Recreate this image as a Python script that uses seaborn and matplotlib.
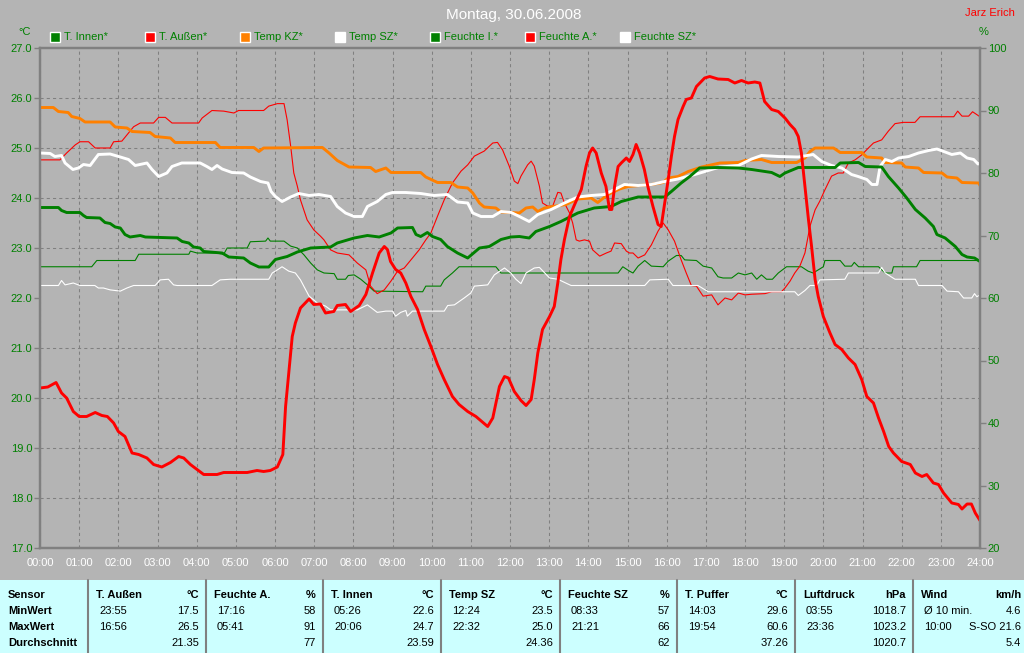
import matplotlib
matplotlib.use("Agg")
import matplotlib.pyplot as plt
import seaborn as sns
import pandas as pd
from matplotlib.patches import Rectangle
from matplotlib.lines import Line2D

# ---------------- data ----------------
title = "Montag, 30.06.2008"
author = "Jarz Erich"
legend_labels = ["T. Innen*", "T. Außen*", "Temp KZ*", "Temp SZ*", "Feuchte I.*", "Feuchte A.*", "Feuchte SZ*"]
legend_colors = ["#008000", "#FF0000", "#FF8000", "#FFFFFF", "#008000", "#FF0000", "#FFFFFF"]

hour_ticks = list(range(0, 25))
hour_labels = [f"{h:02d}:00" for h in hour_ticks]
temp_ticks = list(range(17, 28))
hum_ticks = list(range(20, 101, 10))

t_aussen_h = [0.0, 0.2, 0.41, 0.55, 0.68, 0.85, 1.0, 1.19, 1.41, 1.58, 1.72, 1.88, 2.0, 2.17, 2.35, 2.52, 2.73, 2.9,
              3.11, 3.33, 3.54, 3.67, 3.84, 4.01, 4.18, 4.52, 4.69, 5.29, 5.54, 5.71, 5.88, 6.06, 6.2, 6.27, 6.35,
              6.44, 6.52, 6.65, 6.87, 6.99, 7.16, 7.29, 7.5, 7.59, 7.8, 7.93, 8.15, 8.32, 8.49, 8.66, 8.79, 8.87,
              8.95, 9.08, 9.21, 9.34, 9.47, 9.64, 9.81, 9.98, 10.15, 10.32, 10.53, 10.7, 10.92, 11.13, 11.43, 11.56,
              11.73, 11.86, 11.96, 12.11, 12.28, 12.41, 12.54, 12.62, 12.71, 12.83, 13.01, 13.13, 13.22, 13.3, 13.39,
              13.52, 13.65, 13.82, 13.94, 14.03, 14.11, 14.2, 14.33, 14.45, 14.54, 14.6, 14.67, 14.76, 14.84, 14.97,
              15.05, 15.14, 15.22, 15.31, 15.43, 15.52, 15.65, 15.78, 15.86, 15.95, 16.04, 16.12, 16.2, 16.29, 16.42,
              16.5, 16.63, 16.76, 16.97, 17.1, 17.31, 17.57, 17.74, 17.91, 18.08, 18.25, 18.38, 18.5, 18.68, 18.85,
              19.02, 19.15, 19.27, 19.36, 19.44, 19.53, 19.62, 19.7, 19.79, 19.87, 20.0, 20.17, 20.3, 20.47, 20.64,
              20.81, 20.98, 21.11, 21.28, 21.41, 21.54, 21.67, 21.79, 22.0, 22.22, 22.35, 22.52, 22.64, 22.81, 22.94,
              23.07, 23.28, 23.45, 23.54, 23.67, 23.78, 23.88, 24.0]
t_aussen = [20.2, 20.22, 20.31, 20.1, 20.0, 19.73, 19.63, 19.63, 19.71, 19.65, 19.63, 19.5, 19.33, 19.23, 18.9, 18.87,
            18.8, 18.67, 18.62, 18.71, 18.83, 18.8, 18.67, 18.57, 18.47, 18.47, 18.51, 18.51, 18.55, 18.53, 18.55,
            18.62, 18.87, 19.83, 20.5, 21.23, 21.5, 21.8, 21.98, 21.87, 21.88, 21.7, 21.73, 21.85, 21.87, 21.73,
            21.85, 22.07, 22.5, 22.9, 23.03, 22.97, 22.73, 22.57, 22.5, 22.3, 22.03, 21.77, 21.37, 21.03, 20.67,
            20.37, 20.03, 19.87, 19.73, 19.63, 19.43, 19.6, 20.23, 20.43, 20.4, 20.13, 19.95, 19.85, 19.97, 20.37,
            20.9, 21.37, 21.63, 21.83, 22.3, 22.77, 23.17, 23.63, 23.87, 24.17, 24.63, 24.9, 25.0, 24.9, 24.5, 24.23,
            23.77, 23.77, 24.23, 24.63, 24.7, 24.8, 24.73, 24.87, 25.07, 24.9, 24.57, 24.23, 23.83, 23.47, 23.43,
            23.9, 24.37, 24.83, 25.23, 25.57, 25.83, 25.97, 26.0, 26.23, 26.4, 26.43, 26.38, 26.37, 26.3, 26.35,
            26.3, 26.32, 26.3, 25.93, 25.77, 25.73, 25.6, 25.47, 25.37, 25.23, 24.9, 24.23, 23.57, 23.03, 22.37,
            22.03, 21.63, 21.3, 21.07, 20.97, 20.8, 20.67, 20.37, 20.03, 19.9, 19.6, 19.33, 19.03, 18.9, 18.73,
            18.67, 18.5, 18.43, 18.47, 18.3, 18.27, 18.1, 17.9, 17.87, 17.78, 17.88, 17.88, 17.7, 17.55]

feuchte_a_h = [0.0, 0.51, 0.68, 0.9, 1.02, 1.24, 1.41, 1.79, 1.88, 2.09, 2.22, 2.39, 2.56, 2.9, 3.03, 3.2, 3.37, 4.05,
               4.14, 4.39, 4.69, 4.95, 5.07, 5.71, 5.84, 6.06, 6.23, 6.31, 6.4, 6.48, 6.57, 6.65, 6.82, 6.99, 7.16,
               7.25, 7.42, 7.59, 7.89, 8.1, 8.32, 8.44, 8.61, 8.79, 8.96, 9.13, 9.3, 9.47, 9.68, 9.85, 9.98, 10.15,
               10.32, 10.53, 10.75, 10.92, 11.09, 11.34, 11.56, 11.68, 11.81, 11.98, 12.11, 12.2, 12.28, 12.45, 12.54,
               12.62, 12.75, 12.83, 12.96, 13.09, 13.22, 13.3, 13.39, 13.52, 13.6, 13.69, 13.77, 13.9, 14.03, 14.11,
               14.29, 14.46, 14.58, 14.67, 14.84, 14.97, 15.05, 15.14, 15.27, 15.44, 15.61, 15.78, 15.91, 16.04, 16.2,
               16.37, 16.5, 16.63, 16.76, 16.93, 17.15, 17.31, 17.49, 17.66, 17.83, 18.0, 18.17, 18.51, 18.68, 18.93,
               19.02, 19.15, 19.27, 19.4, 19.53, 19.66, 19.79, 19.91, 20.04, 20.21, 20.38, 20.51, 20.64, 20.81, 20.98,
               21.15, 21.28, 21.49, 21.66, 21.83, 22.04, 22.34, 22.47, 23.33, 23.43, 23.54, 23.71, 23.81, 24.0]
feuchte_a = [82.1, 82.1, 83.2, 84.5, 85.0, 85.0, 84.0, 84.0, 85.0, 85.1, 86.1, 87.4, 88.0, 88.0, 88.9, 88.9, 88.0,
             88.0, 88.8, 90.0, 89.9, 89.6, 90.0, 90.0, 90.7, 91.1, 91.1, 88.5, 84.3, 80.0, 77.9, 75.7, 72.5, 70.9,
             69.9, 69.3, 67.7, 67.2, 66.9, 65.6, 64.5, 61.9, 60.7, 61.3, 62.7, 64.3, 64.8, 66.1, 67.7, 69.3, 70.4,
             73.1, 75.7, 78.4, 80.3, 81.3, 82.7, 83.5, 84.8, 84.9, 83.7, 81.1, 78.7, 78.3, 79.5, 81.3, 81.9, 81.1,
             77.9, 75.2, 74.7, 74.7, 76.9, 76.8, 75.2, 73.6, 72.0, 69.3, 69.1, 69.3, 69.1, 67.7, 66.7, 67.2, 67.5,
             68.8, 68.7, 67.5, 67.2, 67.2, 66.4, 66.9, 68.5, 70.7, 72.0, 70.9, 69.1, 66.1, 64.0, 62.0, 61.9, 60.3,
             60.5, 58.9, 60.0, 59.7, 60.8, 60.5, 60.6, 60.7, 61.0, 61.0, 61.6, 62.7, 64.0, 65.1, 67.2, 71.5, 74.1,
             75.5, 77.3, 79.5, 80.0, 80.0, 81.6, 82.1, 82.9, 84.0, 84.8, 85.3, 86.7, 87.9, 88.1, 88.1, 89.0, 89.0,
             89.9, 89.1, 89.1, 89.8, 89.0]

temp_kz_h = [0.0, 0.34, 0.47, 0.72, 0.81, 1.02, 1.15, 1.79, 1.92, 2.22, 2.35, 2.81, 2.94, 3.33, 3.45, 4.48, 4.6, 5.46,
             5.59, 5.71, 7.21, 7.38, 7.59, 7.89, 8.44, 8.57, 8.83, 8.96, 9.72, 9.85, 10.15, 10.49, 10.66, 10.92,
             11.05, 11.22, 11.34, 11.64, 11.77, 12.24, 12.41, 12.58, 12.71, 12.88, 13.09, 13.43, 13.73, 14.07, 14.24,
             14.5, 14.8, 15.01, 15.31, 15.61, 15.91, 16.04, 16.29, 16.55, 16.89, 17.36, 17.83, 18.0, 18.42, 18.68,
             19.32, 19.53, 19.66, 19.79, 20.26, 20.43, 20.98, 21.11, 21.49, 21.57, 22.0, 22.09, 22.43, 22.56, 23.03,
             23.16, 23.41, 23.54, 23.97, 24.0]
temp_kz = [25.81, 25.81, 25.73, 25.71, 25.63, 25.59, 25.52, 25.52, 25.42, 25.4, 25.33, 25.31, 25.23, 25.2, 25.11,
           25.11, 25.01, 25.01, 24.93, 25.0, 25.01, 24.9, 24.75, 24.62, 24.61, 24.53, 24.6, 24.51, 24.51, 24.42,
           24.31, 24.31, 24.22, 24.2, 24.1, 23.9, 23.82, 23.8, 23.72, 23.7, 23.8, 23.82, 23.73, 23.8, 23.83, 23.87,
           23.98, 24.0, 23.91, 24.07, 24.18, 24.23, 24.25, 24.27, 24.31, 24.4, 24.43, 24.53, 24.62, 24.7, 24.71,
           24.75, 24.77, 24.71, 24.71, 24.8, 24.93, 25.0, 25.0, 24.91, 24.91, 24.82, 24.8, 24.71, 24.7, 24.62, 24.6,
           24.51, 24.5, 24.42, 24.4, 24.31, 24.3, 24.25]

temp_sz_h = [0.0, 0.26, 0.38, 0.55, 0.64, 0.84, 0.98, 1.11, 1.28, 1.49, 1.79, 2.05, 2.26, 2.43, 2.73, 2.86, 3.03, 3.24,
             3.37, 3.62, 4.09, 4.26, 4.39, 4.52, 4.65, 4.9, 5.2, 5.37, 5.63, 5.82, 5.9, 6.01, 6.18, 6.4, 6.61, 6.87,
             7.12, 7.42, 7.59, 7.8, 8.02, 8.23, 8.36, 8.61, 8.83, 9.0, 9.34, 9.72, 10.06, 10.4, 10.66, 10.92, 11.05,
             11.26, 11.56, 11.77, 12.03, 12.24, 12.49, 12.71, 13.05, 13.39, 13.73, 14.07, 14.41, 14.67, 14.92,
             15.27, 15.61, 15.95, 16.29, 16.72, 17.06, 17.36, 17.83, 18.17, 18.42, 18.85, 19.36, 19.74, 19.96,
             20.21, 20.47, 20.72, 20.89, 21.11, 21.24, 21.37, 21.45, 21.58, 21.75, 21.92, 22.18, 22.43, 22.69,
             22.9, 23.11, 23.28, 23.5, 23.67, 23.84, 23.95, 24.0]
temp_sz = [24.9, 24.89, 24.83, 24.85, 24.7, 24.57, 24.6, 24.67, 24.65, 24.87, 24.88, 24.82, 24.77, 24.65, 24.7, 24.57,
           24.43, 24.5, 24.63, 24.7, 24.7, 24.63, 24.57, 24.65, 24.58, 24.51, 24.5, 24.42, 24.33, 24.3, 24.13, 24.03,
           23.93, 24.02, 24.09, 24.05, 24.07, 24.03, 23.83, 23.7, 23.63, 23.63, 23.83, 23.93, 24.07, 24.11, 24.11,
           24.09, 24.05, 24.07, 23.92, 23.9, 23.7, 23.63, 23.63, 23.73, 23.71, 23.63, 23.53, 23.67, 23.77, 23.9,
           24.02, 24.05, 24.07, 24.17, 24.27, 24.25, 24.27, 24.33, 24.38, 24.47, 24.55, 24.62, 24.65, 24.78, 24.85,
           24.83, 24.82, 24.87, 24.73, 24.65, 24.6, 24.47, 24.43, 24.37, 24.27, 24.27, 24.63, 24.77, 24.73, 24.8,
           24.83, 24.9, 24.95, 24.98, 24.92, 24.87, 24.9, 24.8, 24.77, 24.68, 24.7]

t_innen_h = [0.0, 0.47, 0.55, 0.68, 1.02, 1.11, 1.19, 1.53, 1.66, 1.79, 1.92, 2.05, 2.17, 2.3, 2.56, 2.69, 3.5, 3.63,
             3.8, 3.92, 4.09, 4.18, 4.65, 4.82, 5.2, 5.37, 5.59, 5.84, 6.01, 6.31, 6.57, 6.91, 7.42, 7.59, 8.02, 8.36,
             8.66, 8.96, 9.13, 9.51, 9.6, 9.72, 9.89, 10.02, 10.23, 10.4, 10.66, 10.92, 11.22, 11.47, 11.77, 12.02,
             12.24, 12.49, 12.66, 13.01, 13.3, 13.73, 14.15, 14.58, 14.84, 15.27, 15.95, 16.12, 16.37, 16.59, 16.84,
             17.31, 17.83, 18.17, 18.68, 18.89, 19.02, 19.36, 20.3, 20.43, 20.9, 21.07, 21.49, 21.66, 21.92, 22.13,
             22.35, 22.6, 22.81, 22.9, 23.11, 23.37, 23.54, 23.67, 23.86, 24.0]
t_innen = [23.81, 23.81, 23.75, 23.71, 23.71, 23.65, 23.61, 23.6, 23.51, 23.49, 23.42, 23.4, 23.27, 23.22, 23.25,
           23.22, 23.2, 23.13, 23.1, 23.02, 23.0, 22.93, 22.9, 22.82, 22.8, 22.7, 22.62, 22.62, 22.77, 22.83, 22.92,
           23.0, 23.02, 23.1, 23.2, 23.25, 23.22, 23.3, 23.4, 23.41, 23.27, 23.23, 23.31, 23.23, 23.17, 23.03, 22.9,
           22.8, 23.0, 23.03, 23.17, 23.22, 23.23, 23.2, 23.33, 23.43, 23.53, 23.7, 23.8, 23.83, 23.93, 24.02, 24.02,
           24.13, 24.3, 24.43, 24.6, 24.61, 24.6, 24.57, 24.51, 24.43, 24.5, 24.61, 24.61, 24.7, 24.71, 24.63, 24.62,
           24.43, 24.2, 24.0, 23.77, 23.6, 23.43, 23.27, 23.2, 23.03, 22.87, 22.82, 22.8, 22.73]

feuchte_i_h = [0.0, 1.32, 1.45, 2.43, 2.52, 3.8, 3.84, 4.01, 4.5, 4.69, 4.78, 5.29, 5.37, 5.76, 5.82, 5.88, 6.23, 6.4,
               6.57, 6.74, 6.91, 7.08, 7.25, 7.51, 7.59, 7.8, 7.87, 8.02, 8.19, 8.36, 8.53, 9.77, 9.85, 10.23, 10.32,
               10.53, 10.7, 11.64, 11.77, 14.76, 14.88, 15.05, 15.14, 15.27, 15.44, 15.61, 15.91, 16.04, 16.25, 16.37,
               16.46, 16.76, 16.93, 17.15, 17.31, 17.44, 17.66, 17.83, 18.0, 18.17, 18.3, 18.42, 18.55, 18.7, 18.85,
               19.06, 19.44, 19.61, 19.74, 20.0, 20.04, 20.43, 20.55, 20.72, 20.79, 20.9, 21.41, 21.58, 21.75, 21.79,
               22.38, 22.47, 24.0]
feuchte_i = [65.0, 65.0, 66.0, 66.0, 67.0, 67.0, 67.5, 67.2, 67.2, 67.0, 68.0, 68.0, 69.0, 69.1, 69.6, 69.1, 69.1,
             68.3, 68.0, 66.9, 65.6, 64.5, 64.0, 63.9, 63.0, 63.0, 63.6, 63.7, 63.0, 62.1, 61.1, 61.0, 61.9, 61.9,
             62.9, 64.0, 65.0, 65.0, 64.0, 64.0, 65.0, 64.3, 64.0, 65.1, 66.0, 65.1, 65.0, 65.9, 66.8, 66.8, 66.1,
             66.0, 65.1, 64.8, 63.4, 63.2, 63.2, 64.0, 63.7, 64.0, 63.0, 63.7, 63.0, 63.0, 64.0, 65.0, 65.0, 64.3,
             64.0, 65.0, 66.0, 66.0, 65.1, 65.1, 65.7, 65.0, 65.0, 64.0, 64.0, 65.0, 65.0, 66.0, 66.0]

feuchte_sz_h = [0.0, 0.47, 0.55, 0.64, 0.85, 1.02, 1.4, 1.49, 1.62, 1.79, 2.05, 2.22, 2.39, 2.94, 3.07, 3.28, 3.41,
                3.5, 4.39, 4.6, 4.86, 5.84, 5.93, 6.06, 6.18, 6.35, 6.52, 6.65, 6.87, 7.08, 7.29, 7.42, 8.1, 8.36,
                8.61, 8.83, 9.0, 9.08, 9.21, 9.34, 9.38, 9.51, 10.32, 10.41, 10.58, 10.83, 11.0, 11.09, 11.43, 11.6,
                11.86, 12.02, 12.15, 12.28, 12.41, 12.62, 12.75, 13.01, 13.22, 13.56, 15.44, 15.57, 16.04, 16.16,
                16.8, 17.06, 19.27, 19.36, 19.53, 19.66, 19.83, 19.91, 20.55, 20.64, 21.41, 21.49, 21.58, 21.83,
                22.35, 22.43, 23.03, 23.16, 23.45, 23.58, 23.79, 23.86, 23.92, 24.0]
feuchte_sz = [62.0, 62.0, 62.8, 62.1, 62.4, 62.0, 62.0, 61.6, 61.6, 61.3, 61.1, 61.6, 62.0, 62.0, 62.9, 63.0, 62.1,
              62.0, 62.0, 62.9, 63.0, 63.0, 64.0, 64.5, 65.0, 64.3, 64.0, 62.9, 60.3, 59.2, 58.7, 58.1, 58.1, 58.9,
              57.7, 57.9, 57.9, 57.1, 57.7, 58.0, 57.1, 57.9, 57.9, 58.8, 58.9, 60.0, 60.8, 61.9, 62.1, 63.7, 64.8,
              64.0, 63.0, 62.3, 64.0, 64.8, 64.9, 63.2, 63.0, 62.0, 62.0, 62.9, 63.0, 62.0, 62.0, 61.0, 61.0, 60.4,
              61.2, 62.0, 62.0, 62.9, 63.0, 64.0, 64.0, 64.9, 64.0, 63.0, 63.0, 62.0, 62.0, 61.1, 61.0, 60.0, 60.0,
              60.7, 60.2, 60.5]

# summary table
table_row_labels = ["Sensor", "MinWert", "MaxWert", "Durchschnitt"]
sensor_names = ["T. Außen", "Feuchte A.", "T. Innen", "Temp SZ", "Feuchte SZ", "T. Puffer", "Luftdruck", "Wind"]
sensor_units = ["°C", "%", "°C", "°C", "%", "°C", "hPa", "km/h"]
min_times = ["23:55", "17:16", "05:26", "12:24", "08:33", "14:03", "03:55", "Ø 10 min."]
min_vals = ["17.5", "58", "22.6", "23.5", "57", "29.6", "1018.7", "4.6"]
max_times = ["16:56", "05:41", "20:06", "22:32", "21:21", "19:54", "23:36", "10:00"]
max_vals = ["26.5", "91", "24.7", "25.0", "66", "60.6", "1023.2", "S-SO 21.6"]
avg_vals = ["21.35", "77", "23.59", "24.36", "62", "37.26", "1020.7", "5.4"]

# ---------------- style ----------------
W, H = 1024, 653
BG = "#B4B4B4"
FRAME = "#808080"
GREEN = "#008000"
sns.set_style("white")
plt.rcParams['font.family'] = ['Liberation Sans', 'DejaVu Sans']

def fx(x):
    return x / W

def fy(y):
    return 1 - y / H

fig = plt.figure(figsize=(W / 100, H / 100), dpi=100, facecolor=BG)
ax = fig.add_axes([fx(40), fy(548), 940 / W, 500 / H])
ax2 = ax.twinx()
ax.set_zorder(3)
ax2.set_zorder(2)
ax.patch.set_visible(False)
ax2.patch.set_visible(True)
ax2.patch.set_facecolor(BG)

# humidity series (thin, right axis)
right_series = [
    (feuchte_i_h, feuchte_i, legend_colors[4]),
    (feuchte_a_h, feuchte_a, legend_colors[5]),
    (feuchte_sz_h, feuchte_sz, legend_colors[6]),
]
for hx, vy, col in right_series:
    df = pd.DataFrame({"h": hx, "v": vy})
    sns.lineplot(data=df, x="h", y="v", ax=ax2, color=col, linewidth=0.8, estimator=None, legend=False)

# temperature series (thick, left axis)
left_series = [
    (temp_kz_h, temp_kz, legend_colors[2]),
    (temp_sz_h, temp_sz, legend_colors[3]),
    (t_innen_h, t_innen, legend_colors[0]),
    (t_aussen_h, t_aussen, legend_colors[1]),
]
for hx, vy, col in left_series:
    df = pd.DataFrame({"h": hx, "v": vy})
    sns.lineplot(data=df, x="h", y="v", ax=ax, color=col, linewidth=2.1, estimator=None, legend=False)

ax.set_xlim(0, 24)
ax.set_ylim(17, 27)
ax2.set_ylim(20, 100)
ax.set_xlabel("")
ax.set_ylabel("")
ax2.set_xlabel("")
ax2.set_ylabel("")

ax.set_xticks(hour_ticks)
ax.set_xticklabels(hour_labels)
ax.set_yticks(temp_ticks)
ax.set_yticklabels([f"{v:.1f}" for v in temp_ticks])
ax2.set_yticks(hum_ticks)
ax2.set_yticklabels([str(v) for v in hum_ticks])

ax.tick_params(axis="x", colors=FRAME, labelcolor="white", labelsize=8, length=4, width=1, pad=3, direction="out")
ax.tick_params(axis="y", colors=FRAME, labelcolor=GREEN, labelsize=8, length=4, width=1, pad=1.5, direction="out")
ax2.tick_params(axis="y", which="major", colors=FRAME, labelcolor=GREEN, labelsize=8, length=4, width=1, pad=1.5,
                direction="out")

# grid drawn on the lower axes so that it lies below every curve;
# horizontal grid follows the temperature ticks (mapped onto the % scale)
ax2.xaxis.set_visible(True)
ax2.set_xticks(hour_ticks)
ax2.tick_params(axis="x", bottom=False, top=False, labelbottom=False, labeltop=False)
lo1, hi1 = ax.get_ylim()
lo2, hi2 = ax2.get_ylim()
temp_grid_on_hum = [lo2 + (t - lo1) * (hi2 - lo2) / (hi1 - lo1) for t in temp_ticks]
ax2.set_yticks(temp_grid_on_hum, minor=True)
ax2.tick_params(axis="y", which="minor", length=0)
grid_style = dict(color=FRAME, linestyle=(0, (3, 3)), linewidth=0.75)
ax2.grid(True, axis="x", which="major", **grid_style)
ax2.grid(False, axis="y", which="major")
ax2.grid(True, axis="y", which="minor", **grid_style)
ax.grid(False)

for a in (ax, ax2):
    for s in a.spines.values():
        s.set_color(FRAME)
        s.set_linewidth(1.6)
        s.set_visible(True)

# title and side texts
fig.text(fx(514), fy(15), title, color="white", fontsize=11, ha="center", va="center")
fig.text(fx(1015), fy(13), author, color="#FF0000", fontsize=8, ha="right", va="center")
fig.text(fx(25), fy(32), "°C", color=GREEN, fontsize=8, ha="center", va="center")
fig.text(fx(984), fy(32), "%", color=GREEN, fontsize=8, ha="center", va="center")

# legend row
for i, (lab, col) in enumerate(zip(legend_labels, legend_colors)):
    x0 = 50 + i * 95
    fig.patches.append(Rectangle((fx(x0), fy(42)), 10 / W, 10 / H, transform=fig.transFigure,
                                 facecolor=col, edgecolor="white", linewidth=1.0))
    fig.text(fx(x0 + 14), fy(37), lab, color=GREEN, fontsize=8, ha="left", va="center")

# summary table
fig.patches.append(Rectangle((0, 0), 1, 73 / H, transform=fig.transFigure, facecolor="#CCFFFF",
                             edgecolor="none", zorder=0))
col_left = [88, 206, 323, 441, 560, 677, 795, 913]
col_right = [x - 7 for x in col_left[1:]] + [1021]
row_y = [595, 611, 627, 643]
for lab, y in zip(table_row_labels, row_y):
    fig.text(fx(8), fy(y), lab, color="black", fontsize=8, fontweight="bold", ha="left", va="center")
for i in range(len(sensor_names)):
    xl, xr = col_left[i], col_right[i]
    fig.lines.append(Line2D([fx(xl), fx(xl)], [fy(580), fy(653)], transform=fig.transFigure,
                            color=FRAME, linewidth=1.5))
    fig.text(fx(xl + 8), fy(row_y[0]), sensor_names[i], color="black", fontsize=8, fontweight="bold",
             ha="left", va="center")
    fig.text(fx(xr), fy(row_y[0]), sensor_units[i], color="black", fontsize=8, fontweight="bold",
             ha="right", va="center")
    fig.text(fx(xl + 11), fy(row_y[1]), min_times[i], color="black", fontsize=8, ha="left", va="center")
    fig.text(fx(xr), fy(row_y[1]), min_vals[i], color="black", fontsize=8, ha="right", va="center")
    fig.text(fx(xl + 11), fy(row_y[2]), max_times[i], color="black", fontsize=8, ha="left", va="center")
    fig.text(fx(xr), fy(row_y[2]), max_vals[i], color="black", fontsize=8, ha="right", va="center")
    fig.text(fx(xr), fy(row_y[3]), avg_vals[i], color="black", fontsize=8, ha="right", va="center")

fig.savefig("out.png", dpi=100, facecolor=BG)
